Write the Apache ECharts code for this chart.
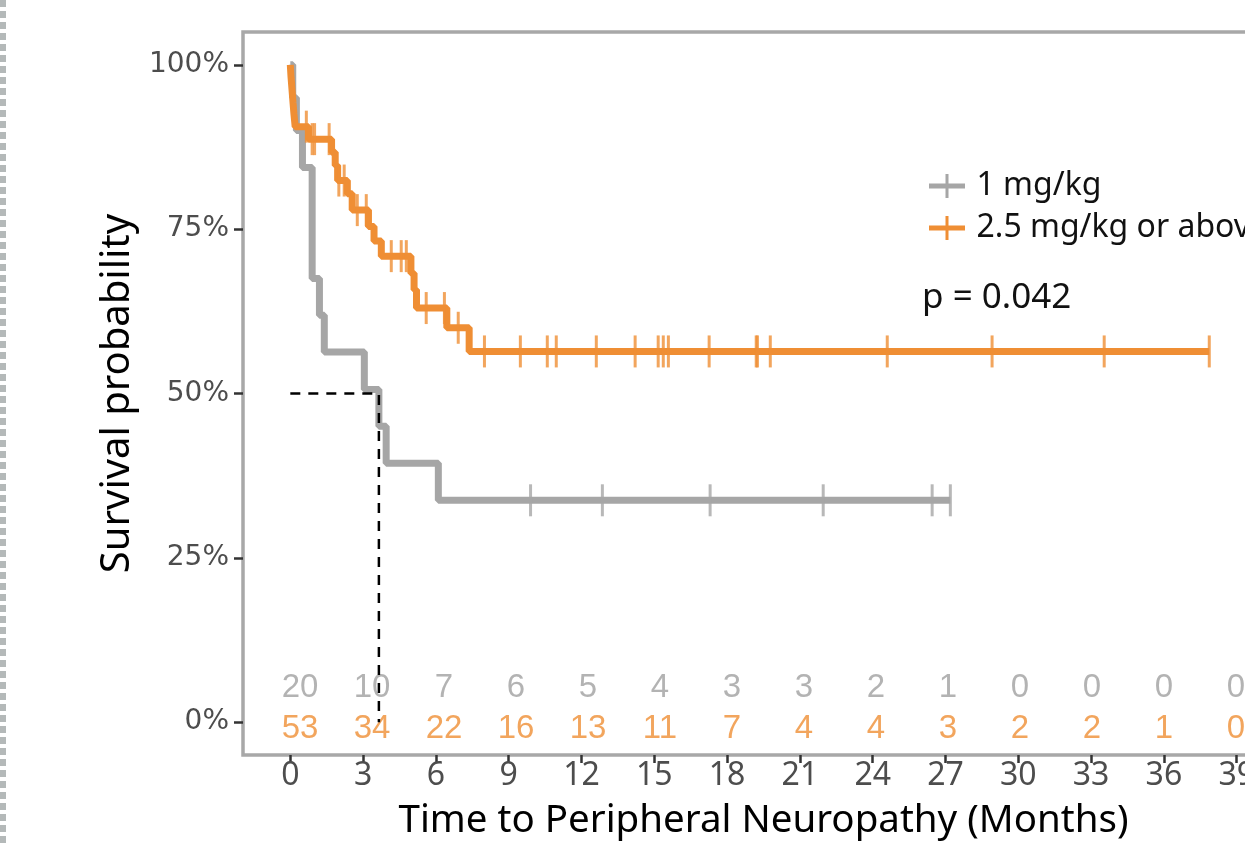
<!DOCTYPE html>
<html>
<head>
<meta charset="utf-8">
<script src="https://cdn.jsdelivr.net/npm/echarts@6/dist/echarts.min.js"></script>
<style>
  html, body { margin: 0; padding: 0; overflow: hidden; background: #fff; }
  #main { width: 1300px; height: 846px; }
</style>
</head>
<body>
<div id="main"></div>
<script>
// 1 mg/kg group: step times (months) and survival (%) after each step
var grayTimes = [0, 0.1, 0.25, 0.5, 0.9, 1.2, 1.4, 3.05, 3.65, 3.95, 6.1, 27.2];
var graySurv = [100, 95, 90, 84.4, 67.5, 61.9, 56.3, 50.6, 45.0, 39.4, 33.75, 33.75];
var grayCensorTimes = [9.9, 12.86, 17.3, 21.96, 26.45, 27.2];
var grayCensorSurv = [33.75, 33.75, 33.75, 33.75, 33.75, 33.75];

// 2.5 mg/kg or above group
var orangeTimes = [0, 0.03, 0.07, 0.11, 0.15, 0.2, 0.75, 1.7, 1.85, 1.95, 2.35, 2.55, 3.22, 3.45, 3.75, 4.97, 5.1, 5.2, 6.45, 7.37, 37.87];
var orangeSurv = [100, 98.1, 96.2, 94.3, 92.5, 90.6, 88.7, 86.7, 84.7, 82.4, 80.4, 77.9, 75.4, 73.2, 70.9, 68.3, 65.8, 63.0, 60.0, 56.4, 56.4];
var orangeCensorTimes = [0.66, 0.9, 1.0, 1.6, 2.0, 2.22, 2.76, 3.13, 4.16, 4.57, 4.78, 5.6, 6.35, 6.92,
  8.0, 9.48, 10.59, 10.96, 12.61, 14.21, 15.16, 15.37, 15.58, 17.26, 19.2, 19.25, 19.78, 24.6, 28.92, 33.54, 37.87];
var orangeCensorSurv = [90.6, 88.7, 88.7, 88.7, 82.4, 82.4, 77.9, 77.9, 70.9, 70.9, 70.9, 63.0, 63.0, 60.0,
  56.4, 56.4, 56.4, 56.4, 56.4, 56.4, 56.4, 56.4, 56.4, 56.4, 56.4, 56.4, 56.4, 56.4, 56.4, 56.4, 56.4];

// median survival of the 1 mg/kg group
var medianTime = 3.65;
var medianSurv = 50;

// number at risk table
var riskTimes = [0, 3, 6, 9, 12, 15, 18, 21, 24, 27, 30, 33, 36, 39];
var riskGray = [20, 10, 7, 6, 5, 4, 3, 3, 2, 1, 0, 0, 0, 0];
var riskOrange = [53, 34, 22, 16, 13, 11, 7, 4, 4, 3, 2, 2, 1, 0];

var xTicks = [0, 3, 6, 9, 12, 15, 18, 21, 24, 27, 30, 33, 36, 39];
var yTicks = [0, 25, 50, 75, 100];

var GRAY = '#A6A6A6';
var ORANGE = '#EF8E34';

function zip(a, b) {
  return a.map(function (v, i) { return [v, b[i]]; });
}
function riskRow(vals, y) {
  return riskTimes.map(function (t, i) { return [t, y, vals[i]]; });
}

var chart = echarts.init(document.getElementById('main'));

var plusIcon = 'path://M0,9.5 H36 V14.5 H0 Z M16.5,0 H19.5 V24 H16.5 Z';

var riskLabel = function (color) {
  return {
    show: true, position: 'inside', color: color, fontFamily: 'Liberation Sans', fontSize: 33,
    formatter: function (p) { return p.value[2]; }
  };
};

var option = {
  animation: false,
  backgroundColor: '#fff',
  grid: {
    left: 243, top: 32, width: 1041, height: 725,
    show: true, borderColor: '#A8A8A8', borderWidth: 3.5, backgroundColor: '#fff'
  },
  legend: {
    data: [
      { name: '1 mg/kg', icon: plusIcon },
      { name: '2.5 mg/kg or above', icon: plusIcon }
    ],
    orient: 'vertical',
    left: 924, top: 165,
    itemWidth: 37, itemHeight: 24, itemGap: 10,
    textStyle: { fontFamily: 'Noto Sans', fontSize: 32, color: '#111', padding: [0, 0, 0, 6] }
  },
  xAxis: [
    {
      type: 'value', min: -1.95, max: 40.95,
      axisLine: { show: false, onZero: false },
      splitLine: { show: false },
      axisTick: { show: true, customValues: xTicks, length: 8, lineStyle: { color: '#333', width: 2.5 } },
      axisLabel: { customValues: xTicks, margin: 5, fontFamily: 'Noto Sans', fontSize: 32, color: '#4D4D4D' },
      name: 'Time to Peripheral Neuropathy (Months)',
      nameLocation: 'middle', nameGap: 47,
      nameTextStyle: { fontFamily: 'Noto Sans', fontSize: 38.5, color: '#000' }
    },
    {
      // the number-at-risk table sits on its own, slightly narrower time scale
      type: 'value', min: -2.375, max: 41.0, show: false
    }
  ],
  yAxis: {
    type: 'value', min: -5, max: 105,
    axisLine: { show: false, onZero: false },
    splitLine: { show: false },
    axisTick: { show: true, customValues: yTicks, length: 9, lineStyle: { color: '#333', width: 2.5 } },
    axisLabel: { customValues: yTicks, margin: 14, formatter: '{value}%', fontFamily: 'DejaVu Sans', fontSize: 28, color: '#4D4D4D' },
    name: 'Survival probability',
    nameLocation: 'middle', nameGap: 100,
    nameTextStyle: { fontFamily: 'Noto Sans', fontSize: 40, color: '#000' }
  },
  series: [
    {
      name: '1 mg/kg', type: 'line', step: 'end', showSymbol: false, z: 2,
      color: GRAY, lineStyle: { color: GRAY, width: 7 },
      data: zip(grayTimes, graySurv)
    },
    {
      name: '2.5 mg/kg or above', type: 'line', step: 'end', showSymbol: false, z: 3,
      color: ORANGE, lineStyle: { color: ORANGE, width: 7 },
      data: zip(orangeTimes, orangeSurv)
    },
    {
      name: 'censor1', type: 'scatter', symbol: 'rect', symbolSize: [3, 32], z: 2,
      itemStyle: { color: GRAY }, data: zip(grayCensorTimes, grayCensorSurv)
    },
    {
      name: 'censor2', type: 'scatter', symbol: 'rect', symbolSize: [3, 32], z: 3,
      itemStyle: { color: ORANGE }, data: zip(orangeCensorTimes, orangeCensorSurv)
    },
    {
      name: 'median', type: 'line', showSymbol: false, z: 6,
      lineStyle: { color: '#000', width: 2.5, type: [10, 8] },
      data: [[0, medianSurv], [medianTime, medianSurv], [medianTime, 0]]
    },
    {
      name: 'risk1', type: 'scatter', xAxisIndex: 1, symbolSize: 0, z: 4,
      label: riskLabel('#A0A0A0'),
      data: riskRow(riskGray, 5.2)
    },
    {
      name: 'risk2', type: 'scatter', xAxisIndex: 1, symbolSize: 0, z: 4,
      label: riskLabel(ORANGE),
      data: riskRow(riskOrange, -1.1)
    }
  ],
  graphic: [
    {
      type: 'line', shape: { x1: 3, y1: 0, x2: 3, y2: 846 },
      style: { stroke: '#B4B9B9', lineWidth: 6, lineDash: [7, 4] }
    },
    {
      type: 'text', left: 922, top: 281,
      style: { text: 'p = 0.042', fontFamily: 'Noto Sans', fontSize: 35, fill: '#111' }
    }
  ]
};

chart.setOption(option);
</script>
</body>
</html>
